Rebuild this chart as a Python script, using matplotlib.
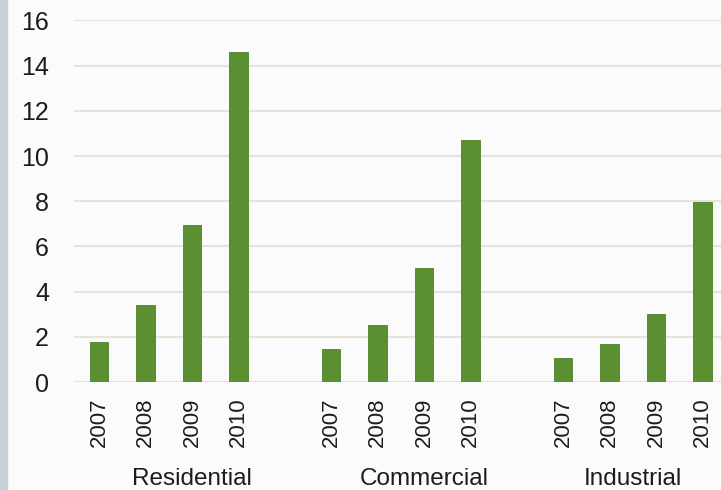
import matplotlib.pyplot as plt
from matplotlib import transforms
from matplotlib.patches import Rectangle

# --- data ---
YEARS = ['2007', '2008', '2009', '2010']
SECTORS = ['Residential', 'Commercial', 'Industrial']
residential = [1.77, 3.4, 6.96, 14.6]
commercial = [1.46, 2.53, 5.05, 10.73]
industrial = [1.07, 1.67, 3.0, 7.95]
# where each sector name sits (in bar slots)
SECTOR_LABEL_POS = [2.0, 7.0, 11.5]

GREEN = '#5b9032'
GRID = '#e6e4d6'
TEXT = '#1c1c1c'

plt.rcParams['font.family'] = ['Liberation Sans', 'DejaVu Sans']

fig = plt.figure(figsize=(7.21, 4.90), dpi=100)
fig.patch.set_facecolor('#fbfbfb')
# blue-grey strip on the left edge
fig.patches.append(Rectangle((0, 0), 7 / 721, 1, transform=fig.transFigure,
                             color='#c6d0d9', zorder=0))

ax = fig.add_axes([74 / 721, 108 / 490, (721 - 74) / 721, (382 - 20.4) / 490])
ax.set_facecolor('#fbfbfb')

groups = [residential, commercial, industrial]
x, values, labels = [], [], []
for g, vals in enumerate(groups):
    for i, v in enumerate(vals):
        x.append(g * 5 + i)
        values.append(v)
        labels.append(YEARS[i])

ax.bar(x, values, width=0.4, color=GREEN, edgecolor='#4f8228', linewidth=0.6, zorder=3)

ax.set_ylim(0, 16)
ax.set_yticks(range(0, 17, 2))
ax.set_xlim(-0.54, 13.4)
ax.set_xticks(x)
ax.set_xticklabels(labels, rotation=90, fontsize=16, color=TEXT)
ax.tick_params(axis='x', length=0, pad=11)
ax.tick_params(axis='y', length=0, pad=18, labelsize=18, labelcolor=TEXT)

ax.yaxis.grid(True, color=GRID, linewidth=1.6, zorder=0)
ax.set_axisbelow(True)
for s in ax.spines.values():
    s.set_visible(False)

trans = transforms.blended_transform_factory(ax.transData, fig.transFigure)
for pos, name in zip(SECTOR_LABEL_POS, SECTORS):
    ax.text(pos, 5 / 490, name, transform=trans, ha='center', va='baseline',
            fontsize=17.5, color=TEXT)

fig.savefig('out.png', dpi=100, facecolor=fig.get_facecolor())
